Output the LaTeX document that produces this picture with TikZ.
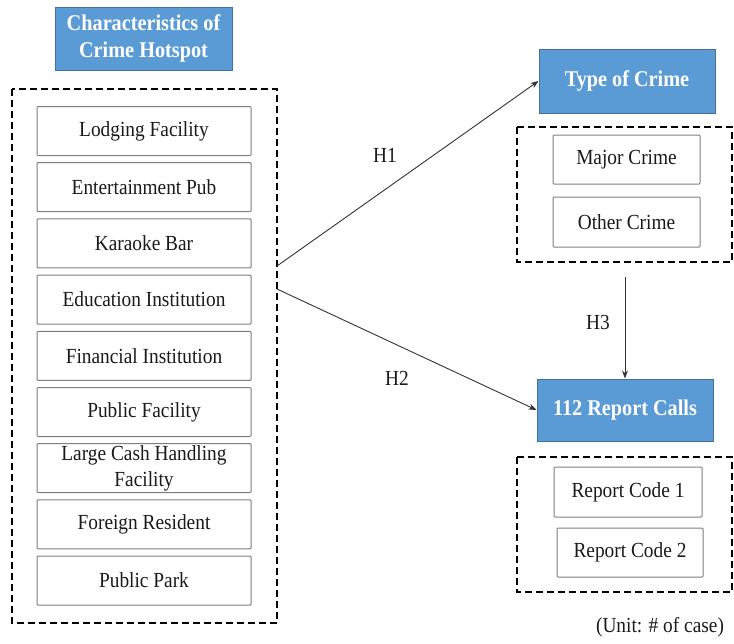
\documentclass[tikz,border=0pt]{standalone}
\usepackage{fontspec}
\setmainfont{Liberation Serif}[FakeStretch=0.9]
\usetikzlibrary{arrows.meta}
\definecolor{hdrfill}{HTML}{5B9BD5}
\definecolor{hdrdraw}{HTML}{41719C}
\definecolor{boxdraw}{HTML}{7F7F7F}
\definecolor{txt}{HTML}{1A1A1A}
\tikzset{
  hdr/.style={draw=hdrdraw, line width=1pt, fill=hdrfill, text=white, font=\fontsize{22.5}{27}\selectfont\bfseries, align=center, inner sep=0pt},
  item/.style={draw=boxdraw, line width=1pt, rounded corners=1pt, fill=white, text=txt, font=\fontsize{21.5}{26}\selectfont, align=center, inner sep=0pt, minimum height=49pt},
  group/.style={draw=black, line width=2.2pt, dash pattern=on 7pt off 4pt},
  conn/.style={draw=black!80, line width=0.9pt, -{Stealth[length=8pt,width=6pt]}},
  lbl/.style={text=txt, font=\fontsize{21.5}{26}\selectfont, inner sep=0pt}
}
\begin{document}
\begin{tikzpicture}[x=1pt,y=-1pt]
\useasboundingbox (0,0) rectangle (734,643);
% left column
\node[hdr, minimum width=177pt, minimum height=63pt] (hdr) at (143.5,38.5) {Characteristics of\\Crime Hotspot};
\draw[group] (12,89) rectangle (277,623);
\node[item, minimum width=214pt] (b1) at (144,131) {Lodging Facility};
\node[item, minimum width=214pt] (b2) at (144,187.2) {Entertainment Pub};
\node[item, minimum width=214pt] (b3) at (144,243.4) {Karaoke Bar};
\node[item, minimum width=214pt] (b4) at (144,299.6) {Education Institution};
\node[item, minimum width=214pt] (b5) at (144,355.8) {Financial Institution};
\node[item, minimum width=214pt] (b6) at (144,412) {Public Facility};
\node[item, minimum width=214pt] (b7) at (144,468.2) {Large Cash Handling\\Facility};
\node[item, minimum width=214pt] (b8) at (144,524.4) {Foreign Resident};
\node[item, minimum width=214pt] (b9) at (144,580.6) {Public Park};
% right top
\node[hdr, minimum width=176pt, minimum height=64pt] (toc) at (627,81) {Type of Crime};
\draw[group] (517,127) rectangle (732,262);
\node[item, minimum width=147pt] (mc) at (626.5,159.5) {Major Crime};
\node[item, minimum width=147pt, minimum height=50pt] (oc) at (626.5,222) {Other Crime};
% right bottom
\node[hdr, minimum width=176pt, minimum height=62pt] (rc) at (625,410) {112 Report Calls};
\draw[group] (517,457) rectangle (732,592);
\node[item, minimum width=148pt, minimum height=50pt] (r1) at (628,492) {Report Code 1};
\node[item, minimum width=146pt] (r2) at (630,552.5) {Report Code 2};
% connectors
\coordinate (h1s) at (277,266);
\coordinate (h2s) at (277,289);
\coordinate (h3s) at (625,277);
\draw[conn] (h1s) -- (toc.west);
\draw[conn] (h2s) -- (rc.west);
\draw[conn] (h3s) -- (rc.north);
\node[lbl] (l1) at (385,155) {H1};
\node[lbl] (l2) at (397,378) {H2};
\node[lbl] (l3) at (598,322) {H3};
\node[lbl] (unit) at (660,627) {(Unit: \# of case)};
\end{tikzpicture}
\end{document}
